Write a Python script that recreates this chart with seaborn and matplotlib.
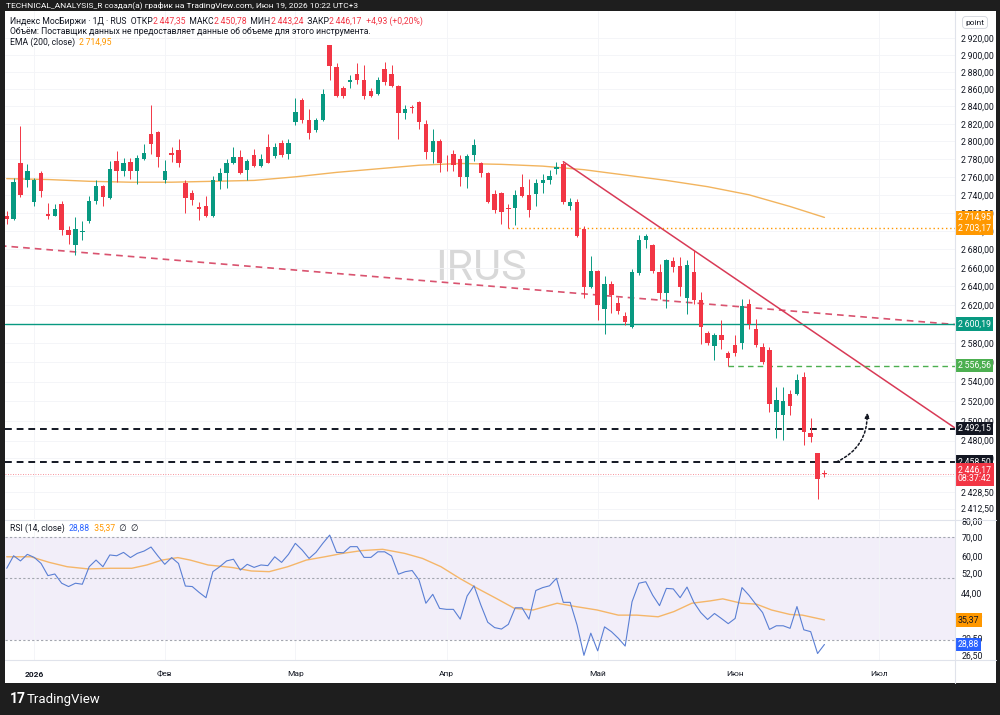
import numpy as np
import pandas as pd
import seaborn as sns
import matplotlib.pyplot as plt
import matplotlib.ticker as mticker
import matplotlib.transforms as mtransforms
from matplotlib.patches import Rectangle

# ---- daily candles, IMOEX (bar index 0..119) ----
opens = [2717, 2713, 2775, 2757, 2732, 2764, 2719, 2717, 2730, 2701,
         2685, 2699, 2711, 2733, 2750, 2736, 2778, 2767, 2777, 2767,
         2780, 2808, 2811, 2756, 2787, 2790, 2753, 2742, 2726, 2727,
         2716, 2755, 2764, 2775, 2782, 2768, 2784, 2772, 2794, 2783,
         2798, 2786, 2822, 2847, 2824, 2813, 2824, 2911, 2886, 2861,
         2868, 2877, 2870, 2858, 2854, 2883, 2877, 2864, 2832, 2839,
         2845, 2820, 2788, 2800, 2776, 2786, 2780, 2760, 2784, 2775,
         2764, 2741, 2742, 2725, 2725, 2749, 2740, 2741, 2753, 2756,
         2769, 2774, 2728, 2732, 2702, 2639, 2657, 2616, 2643, 2622,
         2609, 2597, 2654, 2690, 2685, 2655, 2633, 2667, 2662, 2628,
         2655, 2625, 2591, 2577, 2589, 2570, 2578, 2580, 2621, 2595,
         2576, 2573, 2509, 2506, 2527, 2527, 2545, 2488, 2468, 2447.35]
highs = [2722, 2759, 2818, 2774, 2759, 2766, 2731, 2730, 2733, 2705,
         2715, 2711, 2739, 2756, 2751, 2778, 2789, 2781, 2781, 2784,
         2797, 2842, 2812, 2779, 2794, 2803, 2757, 2745, 2732, 2739,
         2761, 2770, 2780, 2794, 2790, 2780, 2791, 2786, 2808, 2798,
         2801, 2803, 2850, 2850, 2837, 2827, 2860, 2912, 2890, 2863,
         2876, 2890, 2888, 2861, 2874, 2892, 2888, 2865, 2842, 2842,
         2846, 2824, 2814, 2803, 2784, 2790, 2784, 2786, 2803, 2777,
         2765, 2745, 2743, 2730, 2745, 2763, 2758, 2758, 2763, 2768,
         2777, 2777, 2736, 2735, 2705, 2673, 2658, 2651, 2646, 2629,
         2613, 2659, 2696, 2697, 2686, 2664, 2670, 2672, 2672, 2669,
         2679, 2634, 2593, 2591, 2604, 2572, 2588, 2627, 2627, 2605,
         2580, 2576, 2535, 2535, 2531, 2548, 2550, 2503, 2468, 2450.78]
lows = [2708, 2712, 2738, 2749, 2727, 2738, 2713, 2716, 2696, 2686,
        2674, 2690, 2709, 2730, 2727, 2735, 2754, 2761, 2758, 2752,
        2779, 2786, 2771, 2753, 2777, 2771, 2720, 2729, 2712, 2715,
        2715, 2746, 2747, 2774, 2763, 2757, 2771, 2771, 2775, 2781,
        2782, 2780, 2819, 2821, 2803, 2811, 2823, 2870, 2851, 2850,
        2861, 2866, 2849, 2851, 2853, 2865, 2862, 2803, 2826, 2832,
        2814, 2780, 2775, 2765, 2766, 2767, 2750, 2747, 2778, 2760,
        2731, 2720, 2708, 2703.17, 2707, 2738, 2715, 2727, 2742, 2752,
        2763, 2730, 2723, 2694, 2628, 2638, 2604, 2590, 2612, 2611,
        2599, 2596, 2652, 2681, 2654, 2627, 2617, 2656, 2630, 2611,
        2621, 2579, 2578, 2562, 2574, 2556.56, 2567, 2574, 2595, 2576,
        2558, 2509, 2483, 2481, 2506, 2526, 2476, 2479, 2422, 2443.24]
closes = [2713, 2754, 2740, 2766, 2757, 2744, 2717, 2724, 2701, 2696,
          2702, 2700, 2733, 2750, 2737, 2769, 2767, 2776, 2766, 2781,
          2787, 2797, 2782, 2767, 2785, 2775, 2736, 2734, 2724, 2716,
          2757, 2764, 2775, 2782, 2764, 2778, 2772, 2780, 2776, 2794,
          2784, 2798, 2834, 2824, 2809, 2824, 2854, 2887, 2852, 2852,
          2871, 2870, 2852, 2852, 2870, 2868, 2864, 2832, 2837, 2838,
          2822, 2788, 2800, 2775, 2775, 2773, 2760, 2783, 2796, 2764,
          2732, 2723, 2721, 2724, 2740, 2739, 2723, 2753, 2757, 2761,
          2771, 2732, 2732, 2695, 2639, 2657, 2620, 2643, 2631, 2614,
          2602, 2656, 2690, 2695, 2657, 2633, 2668, 2661, 2639, 2663,
          2625, 2597, 2580, 2589, 2583, 2565, 2570, 2619, 2600, 2578,
          2560, 2517, 2521, 2520, 2515, 2542, 2489, 2484, 2441.24, 2446.17]

ema_idx = [0, 6, 12, 18, 24, 30, 36, 42, 48, 54, 60, 66, 72, 78, 84, 90, 96, 102, 108, 114, 119]
ema_val = [2758, 2757, 2755, 2754, 2754, 2755, 2756, 2760, 2765, 2769, 2773, 2775, 2774,
           2772, 2768, 2762, 2756, 2749, 2740, 2727, 2714.95]

# RSI(14) per bar and its moving average (sampled)
rsi_vals = [54.2, 60.1, 57.6, 60.8, 59.3, 56.4, 51.0, 51.7, 47.9, 46.6,
            47.9, 47.5, 54.9, 58.0, 54.9, 60.5, 60.1, 61.8, 59.2, 61.3,
            62.5, 64.6, 60.0, 56.0, 59.2, 56.4, 46.8, 46.6, 44.4, 42.5,
            52.7, 54.9, 57.6, 58.4, 53.4, 56.0, 54.6, 55.7, 55.4, 59.6,
            56.9, 60.8, 66.6, 63.0, 58.8, 61.8, 66.6, 71.3, 61.8, 61.6,
            64.8, 64.8, 59.3, 59.3, 62.1, 62.1, 60.0, 51.6, 52.7, 53.2,
            49.2, 40.6, 43.7, 38.9, 38.6, 38.6, 35.6, 43.1, 46.9, 40.0,
            34.7, 33.2, 32.8, 34.1, 39.1, 39.1, 35.6, 45.1, 46.2, 46.9,
            49.9, 40.9, 40.9, 33.9, 26.4, 31.7, 27.4, 33.4, 32.1, 30.4,
            28.5, 41.1, 47.9, 48.5, 43.4, 39.8, 45.9, 45.7, 42.5, 46.4,
            40.9, 37.6, 35.5, 37.3, 35.8, 34.3, 35.8, 46.2, 43.4, 40.3,
            37.6, 32.7, 33.7, 33.7, 33.0, 39.5, 32.6, 32.1, 26.8, 28.88]
rsi_ma_idx = [0, 3.5, 6.2, 8.8, 11.9, 15.1, 18.2, 20.4, 22.6, 24.9, 26.7, 29.3, 32.9, 35.6,
              38.2, 40.9, 43.6, 46.3, 48.9, 51.6, 54.7, 57.9, 60.5, 63.2, 65.9, 68.5, 71.2,
              73.9, 76.6, 80.1, 82.8, 85.9, 89.0, 91.7, 94.8, 97.1, 99.7, 102.4, 104.2,
              106.9, 109.1, 111.3, 114.0, 115.8, 119]
rsi_ma_val = [59.6, 59.6, 56.9, 54.9, 53.9, 54.2, 54.2, 55.7, 58.0, 59.2, 58.0, 55.7, 54.5, 53.0,
              52.7, 54.9, 58.0, 59.6, 61.3, 62.7, 63.4, 61.3, 58.8, 54.9, 49.9, 45.9, 42.3,
              38.9, 38.4, 40.6, 39.5, 38.4, 36.8, 36.8, 36.3, 37.9, 40.6, 41.4, 42.1,
              40.6, 40.3, 38.4, 37.0, 36.8, 35.37]

# drawings
trend_idx, trend_price = [81, 139], [2777, 2488]
slope_idx, slope_price = [-1, 139], [2684, 2599]
level_teal = 2600.19
level_green, level_green_from = 2556.56, 105
level_orange, level_orange_from = 2703.17, 73
levels_black = [2492.15, 2458.50]
last_price = 2446.17

month_idx = [4, 23, 42, 64, 86, 106, 127]
month_lbl = ['2026', 'Фев', 'Мар', 'Апр', 'Май', 'Июн', 'Июл']
price_ticks = [2920, 2900, 2880, 2860, 2840, 2820, 2800, 2780, 2760, 2740, 2720, 2700,
               2680, 2660, 2640, 2620, 2600, 2580, 2560, 2540, 2520, 2500, 2480,
               2462.5, 2444.5, 2428.5, 2412.5]
hidden_ticks = [2600, 2444.5]   # fully covered by the price tags in the original
rsi_ticks = [80, 70, 60, 52, 44, 36.5, 30.5, 26.5]

GREEN, RED = '#089981', '#f23645'
DARK = '#131722'
W, H = 1000, 715

sns.set_style('white')
plt.rcParams['font.family'] = ['Roboto', 'DejaVu Sans']


def rect(x0, y0, x1, y1):
    return [x0 / W, 1 - y1 / H, (x1 - x0) / W, (y1 - y0) / H]


def fmt(v, _=None):
    return f'{v:,.2f}'.replace(',', '\u2009').replace('.', ',')


def tick_fmt(v, _=None):
    if any(abs(v - h) < 0.01 for h in hidden_ticks):
        return ''
    return fmt(v)


fig = plt.figure(figsize=(10, 7.15), dpi=100, facecolor='#1e1e1e')
fig.patches.append(Rectangle((5 / W, 1 - 683 / H), 991 / W, 672 / H, transform=fig.transFigure,
                             facecolor='white', edgecolor='none', zorder=-5))

ax = fig.add_axes(rect(5, 11, 955, 519))
ax2 = fig.add_axes(rect(5, 521, 955, 660), sharex=ax)
for a in (ax, ax2):
    a.set_facecolor('none')
    for s in a.spines.values():
        s.set_visible(False)
    a.set_axisbelow(True)

# ---- candles ----
df = pd.DataFrame({'o': opens, 'h': highs, 'l': lows, 'c': closes})
df['i'] = np.arange(len(df))
col = np.where(df['c'] >= df['o'], GREEN, RED)
ax.vlines(df['i'], df['l'], df['h'], colors=col, lw=0.7, zorder=3)
body_lo = np.minimum(df['o'], df['c'])
body_h = np.maximum((df['c'] - df['o']).abs(), 0.9)
ax.bar(df['i'], body_h, bottom=body_lo, width=0.64, color=col, zorder=4, linewidth=0)

sns.lineplot(x=ema_idx, y=ema_val, ax=ax, color='#f2b45e', lw=1.0, zorder=2)

# drawings
ax.plot(slope_idx, slope_price, color='#d9536f', lw=1.2, ls=(0, (4, 3)), zorder=2)
ax.plot(trend_idx, trend_price, color='#d83a56', lw=1.1, zorder=2)
ax.axhline(level_teal, color=GREEN, lw=1.0, zorder=2)
ax.plot([level_green_from, 140], [level_green] * 2, color='#4caf50', lw=1.0, ls=(0, (4, 3)))
ax.plot([level_orange_from, 140], [level_orange] * 2, color='#ff9800', lw=1.0, ls=(0, (1, 2)))
for lv in levels_black:
    ax.axhline(lv, color=DARK, lw=1.4, ls=(0, (3.5, 2.5)), zorder=2)
ax.axhline(last_price, color=RED, lw=0.6, ls=(0, (1, 2)), alpha=0.7, zorder=2)
ax.annotate('', xy=(125.2, 2511), xytext=(120.4, 2457.5),
            arrowprops=dict(arrowstyle='-|>', color=DARK, lw=1.1, ls=(0, (1.5, 1.5)),
                            connectionstyle='arc3,rad=0.35', mutation_scale=7))

ax.text(69, 2659, 'IRUS', fontsize=31, color='#d8d8d8', ha='center', va='center', zorder=0)

ax.set_yscale('log')
ax.set_ylim(2402.4, 2952)
ax.set_xlim(-0.25, 138.0)
ax.yaxis.set_major_locator(mticker.FixedLocator(price_ticks))
ax.yaxis.set_minor_locator(mticker.NullLocator())
ax.yaxis.set_major_formatter(mticker.FuncFormatter(tick_fmt))
ax.yaxis.tick_right()
ax.tick_params(axis='y', length=0, pad=4.5, labelsize=6.3, labelcolor=DARK)
ax.set_xticks(month_idx)
ax.tick_params(axis='x', length=0, labelbottom=False)
ax.grid(True, color='#f3f4f7', lw=0.6)
ax.set_xlabel('')
ax.set_ylabel('')

# ---- RSI pane ----
ax2.axhspan(30, 70, color='#f2eef9', zorder=0, lw=0)
for lv in (70, 50, 30):
    ax2.axhline(lv, color='#a3a6af', lw=0.8, ls=(0, (2, 2)), zorder=1)
sns.lineplot(x=rsi_ma_idx, y=rsi_ma_val, ax=ax2, color='#f5b669', lw=1.0, zorder=3)
sns.lineplot(x=np.arange(len(rsi_vals)), y=rsi_vals, ax=ax2, color='#5a7fd4', lw=0.8, zorder=4)
ax2.set_yscale('log')
ax2.set_ylim(25.4, 80.1)
ax2.yaxis.set_major_locator(mticker.FixedLocator(rsi_ticks))
ax2.yaxis.set_minor_locator(mticker.NullLocator())
ax2.yaxis.set_major_formatter(mticker.FuncFormatter(lambda v, _: f'{v:.2f}'.replace('.', ',')))
ax2.yaxis.tick_right()
ax2.tick_params(axis='y', length=0, pad=4.5, labelsize=6.3, labelcolor=DARK)
ax2.set_xticks(month_idx)
ax2.set_xticklabels(month_lbl)
ax2.tick_params(axis='x', length=0, pad=8, labelsize=6, labelcolor=DARK)
ax2.get_xticklabels()[0].set_fontweight('bold')
ax2.grid(True, axis='x', color='#f3f4f7', lw=0.6)
ax2.set_xlabel('')
ax2.set_ylabel('')


# ---- price tags on the scales ----
def tag(a, y, text, fc, tc='white'):
    tr = mtransforms.blended_transform_factory(fig.transFigure, a.transData)
    a.text(958 / W, y, text, transform=tr, ha='left', va='center', fontsize=6.3, color=tc,
           linespacing=1.0, zorder=10, clip_on=False,
           bbox=dict(boxstyle='square,pad=0.25', fc=fc, ec='none'))


tag(ax, ema_val[-1], fmt(ema_val[-1]), '#ff9800')
tag(ax, level_orange, fmt(level_orange), '#ff9800')
tag(ax, level_teal, fmt(level_teal), GREEN)
tag(ax, level_green, fmt(level_green), '#4caf50')
for lv in levels_black:
    tag(ax, lv, fmt(lv), DARK)
tag(ax, last_price, fmt(last_price) + '\n08:37:42', RED)
tag(ax2, rsi_ma_val[-1], f'{rsi_ma_val[-1]:.2f}'.replace('.', ','), '#ff9800', DARK)
tag(ax2, rsi_vals[-1], f'{rsi_vals[-1]:.2f}'.replace('.', ','), '#2962ff')

# ---- frame lines ----
for y in (520, 660):
    fig.add_artist(plt.Line2D([5 / W, 996 / W], [1 - y / H] * 2, color='#e0e3eb', lw=0.8))
fig.add_artist(plt.Line2D([955 / W] * 2, [1 - 11 / H, 1 - 683 / H], color='#e0e3eb', lw=0.8))


# ---- legend text (multi-coloured runs) ----
def runs(x, y, parts, size=6.2):
    t = fig.text(x / W, 1 - y / H, parts[0][0], color=parts[0][1], fontsize=size,
                 ha='left', va='bottom')
    for s, c in parts[1:]:
        t = ax.annotate(s, xy=(1, 0), xycoords=t, color=c, fontsize=size,
                        ha='left', va='bottom', annotation_clip=False, zorder=20)


fig.text(6 / W, 1 - 5.5 / H, 'TECHNICAL_ANALYSIS_R создал(а) график на TradingView.com, Июн 19, 2026 10:22 UTC+3',
         color='white', fontsize=6, ha='left', va='center')
runs(10, 26, [('Индекс МосБиржи · 1Д · RUS  ОТКР', DARK), ('2\u2009447,35', RED), ('  МАКС', DARK),
              ('2\u2009450,78', RED), ('  МИН', DARK), ('2\u2009443,24', RED), ('  ЗАКР', DARK),
              ('2\u2009446,17', RED), ('  +4,93 (+0,20%)', RED)])
runs(10, 36.5, [('Объём: Поставщик данных не предоставляет данные об объеме для этого инструмента.', DARK)])
runs(10, 47, [('EMA (200, close)  ', DARK), ('2\u2009714,95', '#ff9800')])
runs(10, 533, [('RSI (14, close)  ', DARK), ('28,88', '#2962ff'), ('  35,37', '#ff9800'),
               ('  \u2205  \u2205', DARK)])
fig.text(975 / W, 1 - 22.5 / H, 'point', color=DARK, fontsize=6, ha='center', va='center',
         bbox=dict(boxstyle='round,pad=0.35', fc='white', ec='#d1d4dc', lw=0.6))

fig.text(10 / W, 1 - 699 / H, '17', color='white', fontsize=10, fontweight='bold', ha='left', va='center')
fig.text(27 / W, 1 - 699 / H, 'TradingView', color='white', fontsize=9.5, ha='left', va='center')

fig.savefig('out.png', dpi=100, facecolor=fig.get_facecolor())
